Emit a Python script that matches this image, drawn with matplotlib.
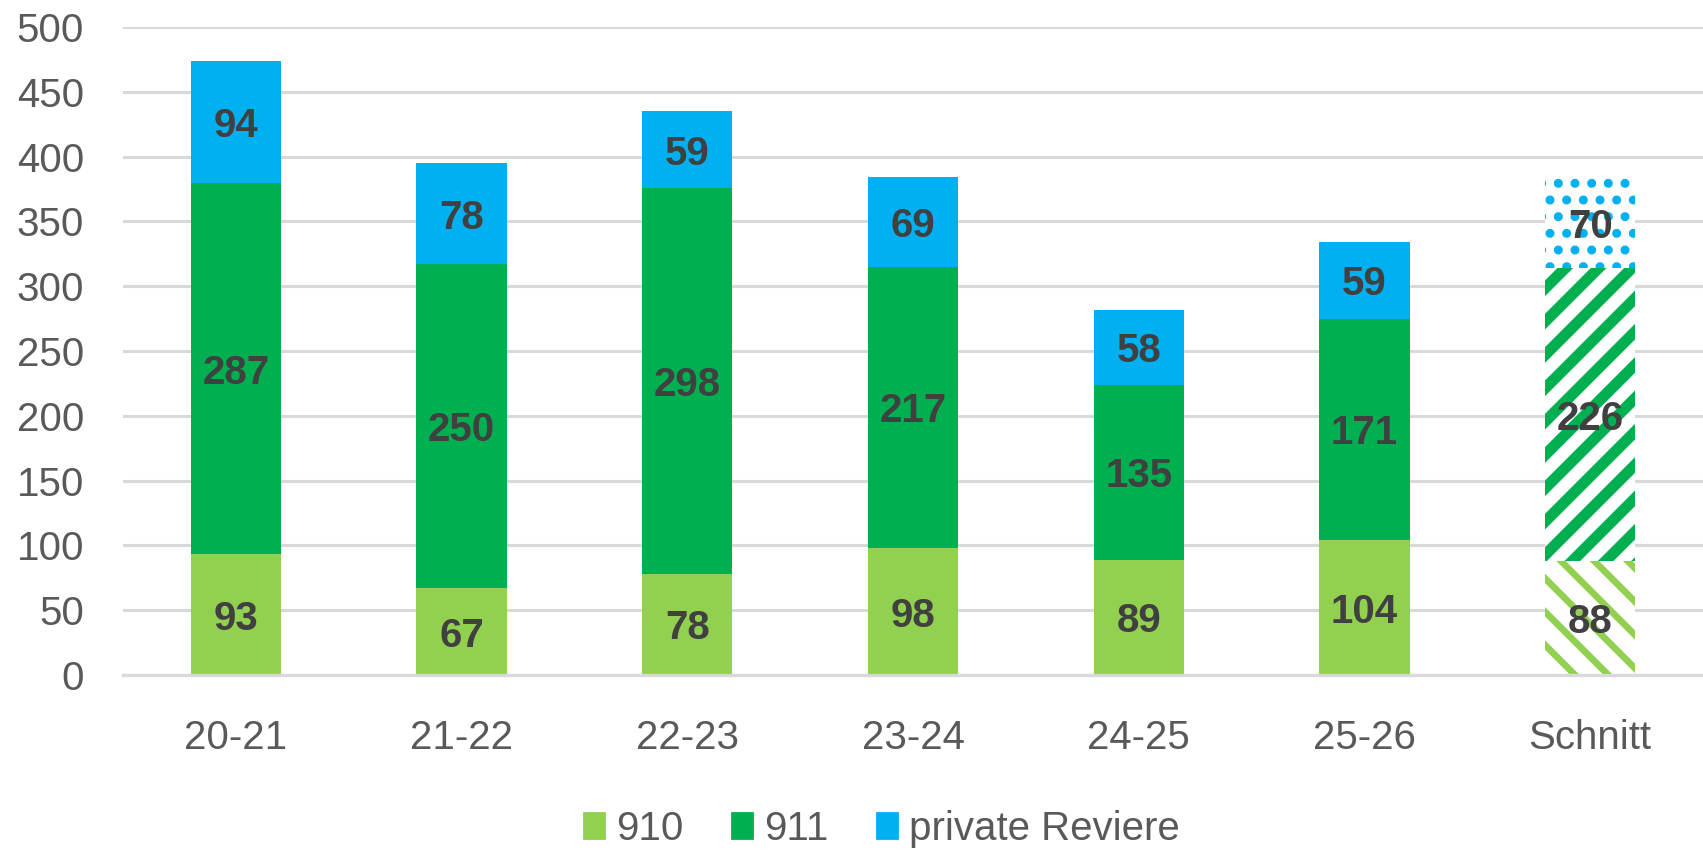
import numpy as np
from matplotlib import pyplot as plt

plt.rcParams['font.family'] = ['Liberation Sans', 'DejaVu Sans']

seasons = ['20-21', '21-22', '22-23', '23-24', '24-25', '25-26', 'Schnitt']
v910 = [93, 67, 78, 98, 89, 104, 88]
v911 = [287, 250, 298, 217, 135, 171, 226]
vpriv = [94, 78, 59, 69, 58, 59, 70]

names = ['910', '911', 'private Reviere']
colors = ['#92D050', '#00B050', '#00B0F0']
hatches = ['\\\\', '//', '..']
hatch_lw = [2.4, 4.0, 2.0]

fig = plt.figure(figsize=(1703 / 200, 851 / 200), dpi=200)
ax = fig.add_axes([0.0722, 0.2068, 0.9278, 0.7614])

x = np.arange(len(seasons))
bottom = np.zeros(len(seasons))
for vals, name, col, hat, hlw in zip([v910, v911, vpriv], names, colors, hatches, hatch_lw):
    vals = np.array(vals, dtype=float)
    bars = ax.bar(x, vals, 0.4, bottom=bottom, color=col, label=name, linewidth=0, zorder=2)
    # average column is drawn with a pattern fill
    last = bars.patches[-1]
    last.set_facecolor('white')
    last.set_edgecolor(col)
    last.set_hatch(hat)
    if hasattr(last, 'set_hatch_linewidth'):
        last.set_hatch_linewidth(hlw)
    for xi, b, v in zip(x, bottom, vals):
        ax.text(xi, b + v / 2, '%d' % v, ha='center', va='center_baseline',
                fontsize=14.5, fontweight='bold', color='#404040', zorder=3)
    bottom += vals

ax.set_xlim(-0.5, len(seasons) - 0.5)
ax.set_ylim(0, 500)
ax.set_yticks(np.arange(0, 501, 50))
ax.set_xticks(x)
ax.set_xticklabels(seasons)
ax.yaxis.grid(True, color='#D9D9D9', linewidth=1.1, zorder=0)
ax.set_axisbelow(True)
for s in ['top', 'right', 'left']:
    ax.spines[s].set_visible(False)
ax.spines['bottom'].set_color('#D9D9D9')
ax.spines['bottom'].set_linewidth(1.2)
ax.tick_params(axis='both', length=0, labelsize=14.5, labelcolor='#595959')
ax.tick_params(axis='y', pad=14)
ax.tick_params(axis='x', pad=16)

handles = [plt.Rectangle((0, 0), 1, 1, color=c) for c in colors]
fig.legend(handles, names, loc='center', bbox_to_anchor=(0.518, 0.026), ncol=3, frameon=False,
           fontsize=14.5, labelcolor='#595959', handlelength=0.5, handleheight=0.55,
           handletextpad=0.3, columnspacing=1.2)

fig.savefig('out.png', dpi=200, facecolor='white')
